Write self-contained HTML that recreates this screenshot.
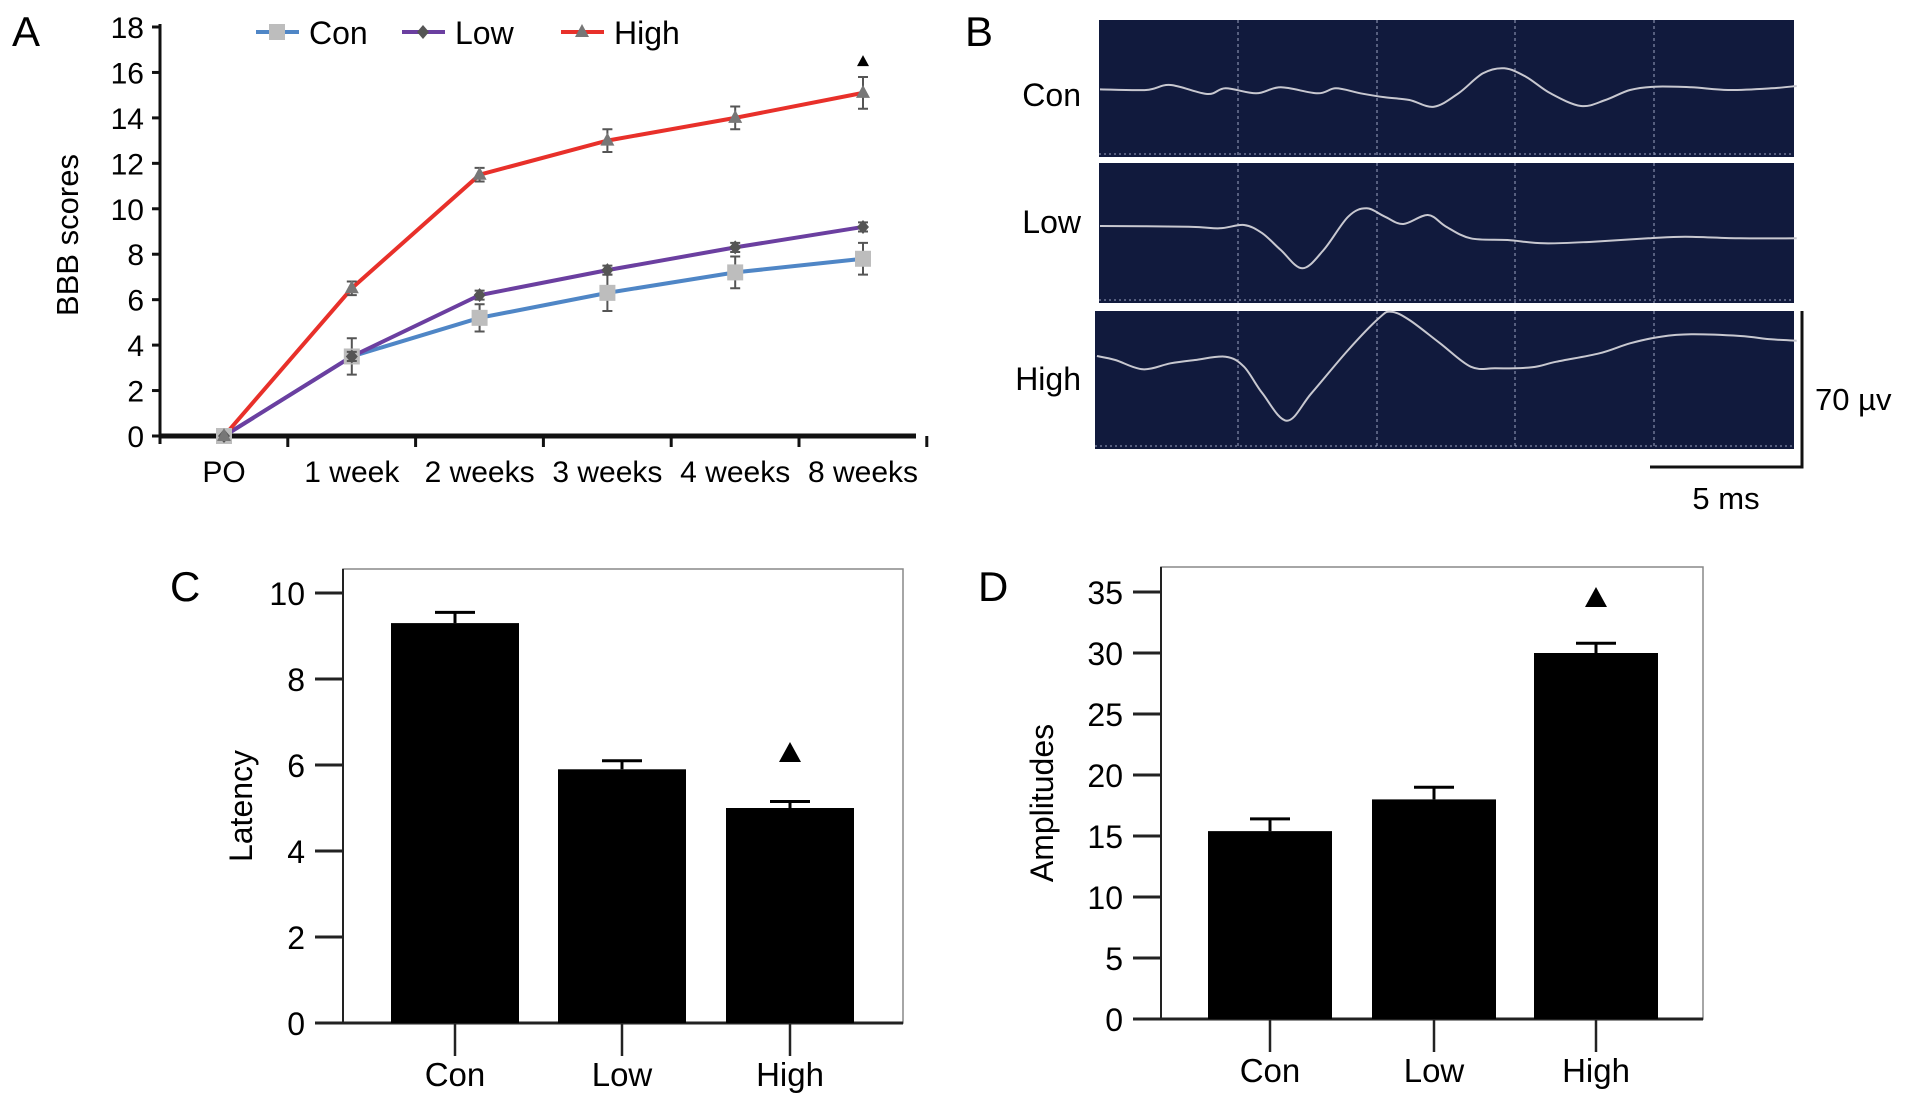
<!DOCTYPE html>
<html><head><meta charset="utf-8"><style>
html,body{margin:0;padding:0;background:#fff;}
svg{display:block;font-family:"Liberation Sans",Arial,sans-serif;}
</style></head><body>
<svg id="fig" width="1913" height="1105" viewBox="0 0 1913 1105" xmlns="http://www.w3.org/2000/svg">
<g id="pA"></g>
<g id="pB"></g>
<g id="pC"></g>
<g id="pD"></g>
</svg>
<script>
// Panel A data
const aCategories = ["PO","1 week","2 weeks","3 weeks","4 weeks","8 weeks"];
const aYTicks = [0,2,4,6,8,10,12,14,16,18];
const conValues = [0,3.5,5.2,6.3,7.2,7.8];
const conErr = [0,0.8,0.6,0.8,0.7,0.7];
const lowValues = [0,3.5,6.2,7.3,8.3,9.2];
const lowErr = [0,0.2,0.2,0.2,0.2,0.2];
const highValues = [0,6.5,11.5,13,14,15.1];
const highErr = [0,0.3,0.3,0.5,0.5,0.7];
// Panel C data
const cCategories = ["Con","Low","High"];
const cValues = [9.3,5.9,5.0];
const cErr = [0.25,0.2,0.15];
const cYTicks = [0,2,4,6,8,10];
// Panel D data
const dCategories = ["Con","Low","High"];
const dValues = [15.4,18,30];
const dErr = [1,1,0.8];
const dYTicks = [0,5,10,15,20,25,30,35];

const NS="http://www.w3.org/2000/svg";
function mk(parent,tag,attrs,text){const e=document.createElementNS(NS,tag);for(const k in attrs)e.setAttribute(k,attrs[k]);if(text!==undefined)e.textContent=text;parent.appendChild(e);return e;}
function smooth(p){let d=`M${p[0][0]},${p[0][1]}`;for(let i=0;i<p.length-1;i++){const p0=p[i-1]||p[i],p1=p[i],p2=p[i+1],p3=p[i+2]||p2;const c1=[p1[0]+(p2[0]-p0[0])/6,p1[1]+(p2[1]-p0[1])/6],c2=[p2[0]-(p3[0]-p1[0])/6,p2[1]-(p3[1]-p1[1])/6];d+=`C${c1[0].toFixed(1)},${c1[1].toFixed(1)} ${c2[0].toFixed(1)},${c2[1].toFixed(1)} ${p2[0].toFixed(1)},${p2[1].toFixed(1)}`;}return d;}

// ---------- Panel A ----------
(function(){
const g=document.getElementById('pA');
const x0=160,x1=916,y0=436,yTop=27;
const ys=v=>y0-(v/18)*(y0-yTop);
const catStep=127.8, catStart=224;
const xs=i=>catStart+i*catStep;
let t=mk(g,'text',{x:12,y:46,'font-size':42},'A');

let ax=mk(g,'line',{x1:x0,y1:yTop-3,x2:x0,y2:y0+8,stroke:'#111','stroke-width':3});

aYTicks.forEach(v=>{
 mk(g,'line',{x1:x0-8,y1:ys(v),x2:x0,y2:ys(v),stroke:'#111','stroke-width':3});
 const l=mk(g,'text',{x:x0-16,y:ys(v)+11,'font-size':30,'text-anchor':'end'},v);
 
});
let xa=mk(g,'line',{x1:x0,y1:y0,x2:x1,y2:y0,stroke:'#111','stroke-width':5});

for(let i=0;i<6;i++){mk(g,'line',{x1:x0+(i+1)*127.8,y1:y0,x2:x0+(i+1)*127.8,y2:y0+11,stroke:'#111','stroke-width':3});}
aCategories.forEach((c,i)=>{
 const l=mk(g,'text',{x:xs(i),y:482,'font-size':30,'text-anchor':'middle'},c);
 
});
let yt=mk(g,'text',{transform:'translate(78,235) rotate(-90)','font-size':31,'text-anchor':'middle'},'BBB scores');

const series=[
 {name:'con',vals:conValues,err:conErr,col:'#4f86c6',marker:'sq'},
 {name:'low',vals:lowValues,err:lowErr,col:'#6b3fa0',marker:'di'},
 {name:'high',vals:highValues,err:highErr,col:'#e8302a',marker:'tri'}];
series.forEach(s=>{
 const pts=s.vals.map((v,i)=>xs(i)+','+ys(v)).join(' ');
 const pl=mk(g,'polyline',{points:pts,fill:'none',stroke:s.col,'stroke-width':4});
 
});
series.forEach(s=>{
 s.vals.forEach((v,i)=>{
  const x=xs(i),y=ys(v);
  if(s.err[i]>0){
   const e=mk(g,'path',{d:`M${x},${ys(v+s.err[i])}V${ys(v-s.err[i])}M${x-5},${ys(v+s.err[i])}h10M${x-5},${ys(v-s.err[i])}h10`,stroke:'#555','stroke-width':2,fill:'none'});
   
  }
  let m;
  if(s.marker==='sq') m=mk(g,'rect',{x:x-8,y:y-8,width:16,height:16,fill:'#bdbdbd'});
  else if(s.marker==='di') m=mk(g,'path',{d:`M${x},${y-7}l6,7l-6,7l-6,-7z`,fill:'#555'});
  else m=mk(g,'path',{d:`M${x},${y-8}l7,13h-14z`,fill:'#777'});
  
 });
});
const lastI=5;
let tri=mk(g,'path',{d:`M${xs(lastI)},${ys(highValues[lastI]+highErr[lastI]+0.7)-6}l6,11h-12z`,fill:'#000'});

const leg=[['Con','#4f86c6','sq',256],['Low','#6b3fa0','di',402],['High','#e8302a','tri',561]];
leg.forEach(([n,c,mkr,x])=>{
 const lg=mk(g,'g',{});
 mk(lg,'line',{x1:x,y1:32,x2:x+43,y2:32,stroke:c,'stroke-width':4});
 const cx=x+21;
 if(mkr==='sq') mk(lg,'rect',{x:cx-8,y:24,width:16,height:16,fill:'#bdbdbd'});
 else if(mkr==='di') mk(lg,'path',{d:`M${cx},25l6,7l-6,7l-6,-7z`,fill:'#555'});
 else mk(lg,'path',{d:`M${cx},24l7,13h-14z`,fill:'#777'});
 mk(lg,'text',{x:x+53,y:44,'font-size':32},n);
});
})();

// ---------- Panel B ----------
(function(){
const g=document.getElementById('pB');
let t=mk(g,'text',{x:965,y:46,'font-size':42},'B');

const boxes=[{n:'Con',x:1099,y:20,w:695,h:137,ly:106},{n:'Low',x:1099,y:163,w:695,h:140,ly:233},{n:'High',x:1095,y:311,w:699,h:138,ly:390}];
const traces={
Con:[[235,268],[310,270],[350,255],[410,282],[440,265],[490,280],[530,262],[590,280],[620,265],[660,280],[700,292],[740,300],[780,320],[820,280],[860,220],[895,205],[930,230],[970,280],[1020,318],[1060,300],[1100,270],[1140,260],[1200,262],[1260,270],[1330,265],[1372,258]],
Low:[[235,678],[380,680],[430,685],[470,675],[500,700],[530,750],[565,805],[600,750],[640,650],[670,625],[700,650],[730,672],[770,645],[800,680],[840,715],[900,720],[960,730],[1040,725],[1130,715],[1190,710],[1280,715],[1372,715]],
High:[[230,1068],[260,1080],[305,1108],[350,1090],[390,1080],[440,1070],[470,1100],[500,1180],[540,1262],[580,1180],[640,1050],[690,955],[710,935],[740,960],[790,1030],[840,1100],[880,1105],[940,1102],[980,1085],[1050,1060],[1100,1030],[1150,1010],[1200,1003],[1280,1008],[1330,1018],[1372,1022]]};
const dashX=[1238,1377,1515,1654];
boxes.forEach(b=>{
 const r=mk(g,'rect',{x:b.x,y:b.y,width:b.w,height:b.h,fill:'#111a3d'});
 
 dashX.forEach(dx=>mk(g,'line',{x1:dx,y1:b.y,x2:dx,y2:b.y+b.h,stroke:'#9aa3c0','stroke-width':1,'stroke-dasharray':'3,3'}));
 mk(g,'line',{x1:b.x,y1:b.y+b.h-3,x2:b.x+b.w,y2:b.y+b.h-3,stroke:'#9aa3c0','stroke-width':1,'stroke-dasharray':'2,3'});
 const pts=traces[b.n].map(p=>[956+p[0]/1.632,p[1]/3]);
 const pl=mk(g,'path',{d:smooth(pts),fill:'none',stroke:'#c8c8d0','stroke-width':2});
 
 const l=mk(g,'text',{x:1081,y:b.ly,'font-size':32,'text-anchor':'end'},b.n);
 
});
const sb=mk(g,'path',{d:'M1802,311V467H1650',stroke:'#111','stroke-width':3,fill:'none'});

let s1=mk(g,'text',{x:1815,y:410,'font-size':31},'70 µv');
let s2=mk(g,'text',{x:1726,y:509,'font-size':31,'text-anchor':'middle'},'5 ms');
})();

// ---------- Bar panels ----------
function barPanel(gid,letter,lx,box,ymax,ticks,cats,vals,errs,centers,bw,ytitle,ytx,triIdx,triY){
 const g=document.getElementById(gid);
 const ys=v=>box.y0-(v/ymax)*(box.y0-box.yMaxPix);
 let t=mk(g,'text',{x:lx,y:601,'font-size':42},letter);
 
 const fr=mk(g,'rect',{x:box.x0,y:box.top,width:box.x1-box.x0,height:box.y0-box.top,fill:'none',stroke:'#888','stroke-width':1.5});
 
 const ya=mk(g,'line',{x1:box.x0,y1:box.top,x2:box.x0,y2:box.y0,stroke:'#222','stroke-width':2});
 
 const xa=mk(g,'line',{x1:box.x0-28,y1:box.y0,x2:box.x1,y2:box.y0,stroke:'#222','stroke-width':3});
 
 ticks.forEach(v=>{
  mk(g,'line',{x1:box.x0-28,y1:ys(v),x2:box.x0,y2:ys(v),stroke:'#222','stroke-width':3});
  const l=mk(g,'text',{x:box.x0-38,y:ys(v)+12,'font-size':32,'text-anchor':'end'},v);
  
 });
 cats.forEach((c,i)=>{
  const cx=centers[i];
  const b=mk(g,'rect',{x:cx-bw/2,y:ys(vals[i]),width:bw,height:box.y0-ys(vals[i]),fill:'#000'});
  
  const e=mk(g,'path',{d:`M${cx},${ys(vals[i])}V${ys(vals[i]+errs[i])}M${cx-20},${ys(vals[i]+errs[i])}h40`,stroke:'#000','stroke-width':3,fill:'none'});
  
  mk(g,'line',{x1:cx,y1:box.y0,x2:cx,y2:box.y0+33,stroke:'#222','stroke-width':2.5});
  const l=mk(g,'text',{x:cx,y:box.y0+63,'font-size':33,'text-anchor':'middle'},c);
  
 });
 const tri=mk(g,'path',{d:`M${centers[triIdx]},${triY-11}l11,20h-22z`,fill:'#000'});
 
 const yt=mk(g,'text',{transform:`translate(${ytx},${(box.top+box.y0)/2+10}) rotate(-90)`,'font-size':32,'text-anchor':'middle'},ytitle);
 
}
barPanel('pC','C',170,{x0:343,x1:903,top:569,y0:1023,yMaxPix:593},10,cYTicks,cCategories,cValues,cErr,[455,622,790],128,'Latency',252,2,753);
barPanel('pD','D',978,{x0:1161,x1:1703,top:567,y0:1019,yMaxPix:592},35,dYTicks,dCategories,dValues,dErr,[1270,1434,1596],124,'Amplitudes',1053,2,598);
</script>
</body></html>
